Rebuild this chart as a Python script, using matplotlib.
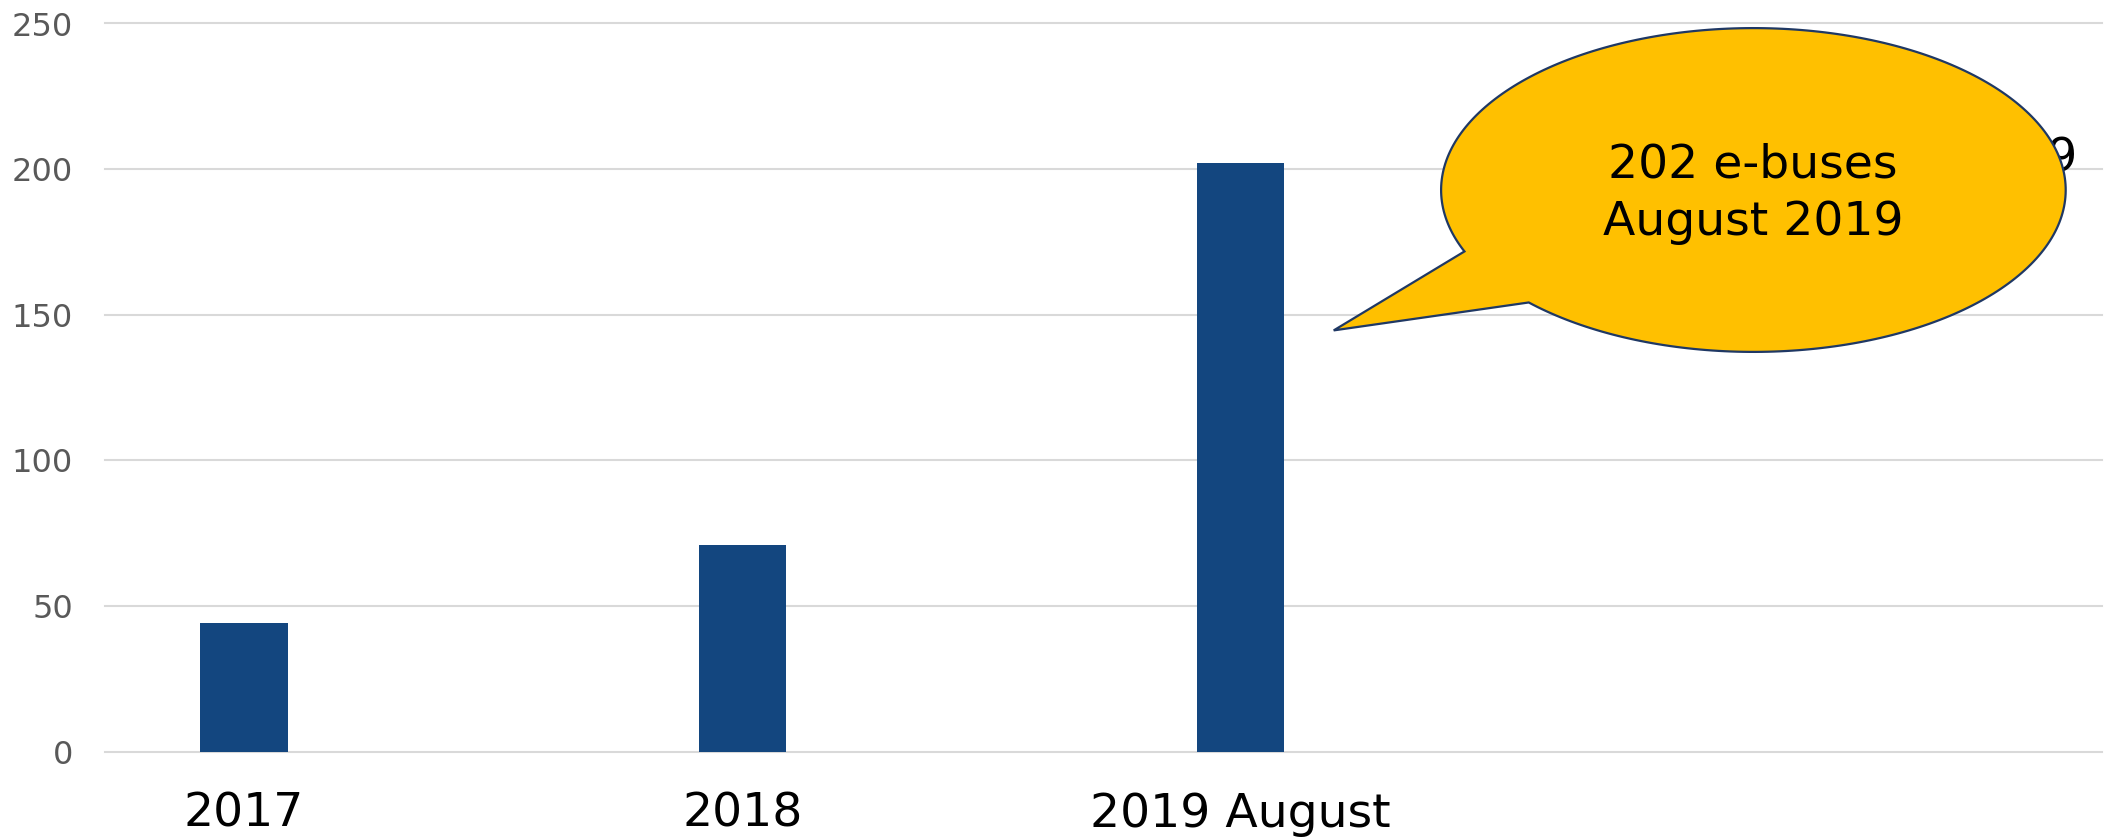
import numpy as np
import matplotlib
matplotlib.use("Agg")
import matplotlib.pyplot as plt
from matplotlib.patches import Polygon

# data
categories = ["2017", "2018", "2019 August"]
ebuses = [44, 71, 202]
y_ticks = [0, 50, 100, 150, 200, 250]
callout_lines = ["202 e-buses", "August 2019"]

BAR_COLOUR = "#13467F"
GRID_COLOUR = "#D9D9D9"
BUBBLE_FILL = "#FFC000"
BUBBLE_EDGE = "#1F3864"

W, H = 2106, 838
fig = plt.figure(figsize=(W / 100, H / 100), dpi=100)
ax = fig.add_axes([105 / W, 1 - 751.6 / H, 1997 / W, 728.1 / H])

x = np.arange(len(categories))
ax.bar(x, ebuses, width=0.175, color=BAR_COLOUR, zorder=2)

ax.set_xlim(-0.279, 3.729)
ax.set_ylim(0, 250)
ax.set_yticks(y_ticks)
ax.set_yticklabels([str(v) for v in y_ticks], fontsize=23, color="#595959")
ax.set_xticks(x)
ax.set_xticklabels(categories, fontsize=34, color="black")
ax.tick_params(axis="both", length=0)
ax.tick_params(axis="y", pad=23)
ax.tick_params(axis="x", pad=29)

for v in y_ticks:
    ax.axhline(v, color=GRID_COLOUR, lw=1.5, zorder=1, clip_on=False)
for s in ax.spines.values():
    s.set_visible(False)

# text sitting behind the callout (only the last "9" shows)
ax.text(2078 / W, 1 - 159 / H, "2019", transform=fig.transFigure,
        ha="right", va="center", fontsize=34, zorder=4, clip_on=False)

# speech bubble callout, built in figure pixels then scaled to fractions
cx, cy = 1753.4, H - 190.0
a, b = 312.3, 161.9
t = np.radians(np.linspace(224, 202.3 + 360, 300))
ex = cx + a * np.cos(t)
ey = cy + b * np.sin(t)
tip = (1333.7, H - 330.4)
px = np.append(ex, tip[0]) / W
py = np.append(ey, tip[1]) / H
bubble = Polygon(np.column_stack([px, py]), closed=True, transform=fig.transFigure,
                 facecolor=BUBBLE_FILL, edgecolor=BUBBLE_EDGE, lw=1.6,
                 zorder=5, clip_on=False)
ax.add_patch(bubble)

ax.text(1753 / W, 1 - 165 / H, callout_lines[0], transform=fig.transFigure,
        ha="center", va="center", fontsize=34, zorder=6)
ax.text(1753 / W, 1 - 222 / H, callout_lines[1], transform=fig.transFigure,
        ha="center", va="center", fontsize=34, zorder=6)

fig.savefig("out.png", dpi=100)
